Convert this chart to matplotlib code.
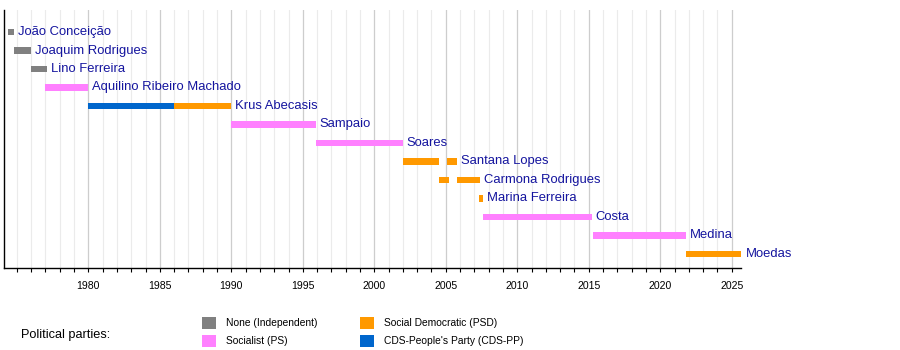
import matplotlib
matplotlib.use("Agg")
import matplotlib.pyplot as plt
from matplotlib.patches import Rectangle
from matplotlib.ticker import MultipleLocator

plt.rcParams['font.family'] = ['Liberation Sans', 'DejaVu Sans']

# ---- data ----
mayors = ["João Conceição", "Joaquim Rodrigues", "Lino Ferreira",
          "Aquilino Ribeiro Machado", "Krus Abecasis", "Sampaio", "Soares",
          "Santana Lopes", "Carmona Rodrigues", "Marina Ferreira", "Costa",
          "Medina", "Moedas"]
seg_mayor = [0, 1, 2, 3, 4, 4, 5, 6, 7, 7, 8, 8, 9, 10, 11, 12]
seg_start = [1974.35, 1974.8, 1976.0, 1977.0, 1980.0, 1986.0, 1990.0, 1995.9,
             2002.0, 2005.1, 2004.5, 2005.8, 2007.35, 2007.6, 2015.3, 2021.8]
seg_end = [1974.8, 1976.0, 1977.1, 1980.0, 1986.0, 1990.0, 1995.9, 2002.0,
           2004.5, 2005.8, 2005.2, 2007.4, 2007.6, 2015.2, 2021.8, 2025.7]
seg_party = ["IND", "IND", "IND", "PS", "CDS", "PSD", "PS", "PS",
             "PSD", "PSD", "PSD", "PSD", "PSD", "PS", "PS", "PSD"]

party_keys = ["IND", "PS", "PSD", "CDS"]
party_names = ["None (Independent)", "Socialist (PS)",
               "Social Democratic (PSD)", "CDS-People's Party (CDS-PP)"]
party_colors = ["#808080", "#ff80ff", "#ff9900", "#0066cc"]

x_min, x_max = 1974.1, 2025.65

# ---- figure ----
fig = plt.figure(figsize=(9, 3.5), dpi=100)
ax = fig.add_axes([4 / 900, 1 - 268 / 350, (741 - 4) / 900, (268 - 10) / 350])

color_of = dict(zip(party_keys, party_colors))
ax.barh(seg_mayor, [e - s for s, e in zip(seg_start, seg_end)], left=seg_start,
        height=0.34, color=[color_of[p] for p in seg_party], zorder=3)

for i, name in enumerate(mayors):
    end = max(e for m, e in zip(seg_mayor, seg_end) if m == i)
    ax.text(end + 0.28, i, name, va='center', ha='left', fontsize=9.4,
            color='#14149e', zorder=4, clip_on=False)

ax.set_xlim(x_min, x_max)
ax.set_ylim(12.76, -1.19)
ax.set_yticks([])

ax.xaxis.set_major_locator(MultipleLocator(5))
ax.xaxis.set_minor_locator(MultipleLocator(1))
ax.grid(which='minor', axis='x', color='#ebebeb', linewidth=0.8, zorder=0)
ax.grid(which='major', axis='x', color='#cdcdcd', linewidth=0.9, zorder=1)
ax.tick_params(axis='x', which='both', direction='out', length=3.2, width=0.8,
               color='black', labelsize=7.6, pad=6)
ax.set_xticks([t for t in range(1980, 2026, 5)])
ax.set_xticklabels([str(t) for t in range(1980, 2026, 5)])

for s in ['top', 'right']:
    ax.spines[s].set_visible(False)
for s in ['left', 'bottom']:
    ax.spines[s].set_color('black')
    ax.spines[s].set_linewidth(1.0)

# ---- legend ----
fig.text(21 / 900, 1 - 335 / 350, "Political parties:", fontsize=9.2,
         va='center', ha='left', color='black')
col_x = [202, 202, 360, 360]
row_y = [323, 341, 323, 341]
for name, col, cx, cy in zip(party_names, party_colors, col_x, row_y):
    fig.add_artist(Rectangle((cx / 900, 1 - (cy + 6.3) / 350), 13.5 / 900,
                             12.6 / 350, transform=fig.transFigure,
                             facecolor=col, edgecolor='none'))
    fig.text((cx + 24) / 900, 1 - cy / 350, name, fontsize=7.4, va='center',
             ha='left', color='black')

fig.savefig("out.png", dpi=100)
